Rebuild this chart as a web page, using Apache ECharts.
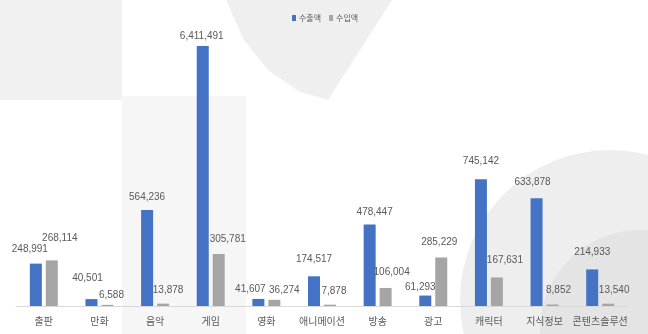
<!DOCTYPE html>
<html><head><meta charset="utf-8">
<script src="https://cdn.jsdelivr.net/npm/echarts@6/dist/echarts.min.js"></script>
<style>html,body{margin:0;padding:0;background:#fff}#c{width:648px;height:334px}</style>
</head><body><div id="c"></div>
<script>
const categories = ['출판','만화','음악','게임','영화','애니메이션','방송','광고','캐릭터','지식정보','콘텐츠솔루션'];
const exportValues = [248991, 40501, 564236, 6411491, 41607, 174517, 478447, 61293, 745142, 633878, 214933];
const importValues = [268114, 6588, 13878, 305781, 36274, 7878, 106004, 285229, 167631, 8852, 13540];
const seriesNames = ['수출액', '수입액'];

// label nudges (style only), per category
const exportNudge = [[-6,-4],[-4,-11],[0,-3],[-1,0],[-8,0],[0,-7],[5,-2],[-5,2],[0,-8],[-4,-6],[0,-7]];
const importNudge = [[8,-12],[4,0],[5,-3],[9,-5],[10,0],[4,-3],[6,-6],[-2,-5],[8,-7],[6,-4],[6,-3]];

const fmt = v => v.toLocaleString('en-US');
const labelBase = {show:true, position:'top', distance:5, color:'#595959',
  fontFamily:'"Liberation Sans",Arial,sans-serif', fontSize:10,
  formatter: p => fmt(p.value)};

function mk(values, nudge){
  return values.map((v,i)=>({value:v, label:{offset:nudge[i]}}));
}

const chart = echarts.init(document.getElementById('c'), null, {renderer:'canvas'});
chart.setOption({
  backgroundColor:'#ffffff',
  animation:false,
  graphic:[
    {type:'rect', z:-10, shape:{x:0,y:0,width:122,height:100}, style:{fill:'#f1f1f1'}},
    {type:'rect', z:-10, shape:{x:122,y:96,width:124,height:238}, style:{fill:'#f6f6f6'}},
    {type:'polygon', z:-10, shape:{points:[[226,0],[392,0],[328,100],[300,92],[268,70],[244,40]]}, style:{fill:'#efefef'}},
    {type:'circle', z:-10, shape:{cx:610,cy:300,r:150}, style:{fill:'#eeeeee'}},
    {type:'circle', z:-10, shape:{cx:640,cy:330,r:100}, style:{fill:'#e4e4e4'}}
  ],
  legend:{
    data:seriesNames, left:287, top:9, itemWidth:4, itemHeight:6, itemGap:8,
    icon:'rect',
    textStyle:{color:'#595959', fontSize:8, fontFamily:'"Noto Sans CJK KR",sans-serif', padding:[0,0,0,-2]}
  },
  grid:{left:16, right:20, top:46, bottom:28, containLabel:false},
  xAxis:{
    type:'category', data:categories,
    axisLine:{lineStyle:{color:'#d9d9d9', width:1}},
    axisTick:{show:false},
    axisLabel:{color:'#595959', fontSize:10, margin:10, interval:0,
      fontFamily:'"Noto Sans CJK KR",sans-serif'}
  },
  yAxis:{type:'value', min:0, max:1528000, show:false, splitLine:{show:false}},
  series:[
    {name:seriesNames[0], type:'bar', data:mk(exportValues, exportNudge), barWidth:12, barGap:'33%',
     itemStyle:{color:'#4472C4'}, label:labelBase, clip:true},
    {name:seriesNames[1], type:'bar', data:mk(importValues, importNudge), barWidth:12,
     itemStyle:{color:'#A5A5A5'}, label:labelBase, clip:true}
  ]
});
</script></body></html>
